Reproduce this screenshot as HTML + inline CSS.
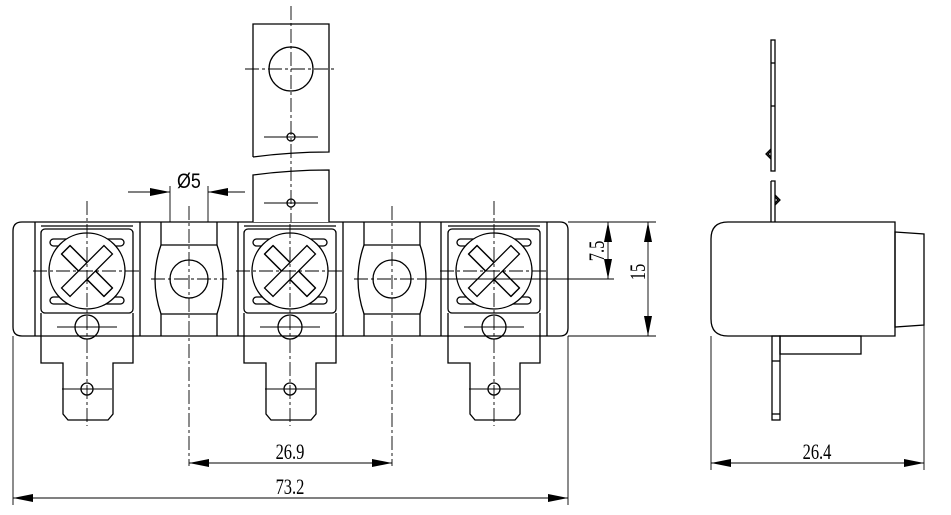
<!DOCTYPE html>
<html><head><style>html,body{margin:0;padding:0;background:#fff}svg{display:block}</style></head>
<body>
<svg width="951" height="515" viewBox="0 0 951 515" xmlns="http://www.w3.org/2000/svg" font-family="Liberation Serif, serif">
<defs>
<g id="scr" fill="none" stroke="#000" stroke-width="1.3">
  <rect x="-46" y="-42" width="92" height="84" rx="4"/>
  <line x1="-46" y1="-45" x2="46" y2="-45"/>
  <rect x="-37" y="-32" width="74" height="7" rx="3.5"/>
  <rect x="-37" y="26" width="74" height="7" rx="3.5"/>
  <circle cx="0" cy="0" r="38" fill="#fff"/>
  <g transform="rotate(45)"><polygon points="-30,-6 30,-6 30,6 -30,6"/></g>
  <g transform="rotate(-45)"><polygon points="-30,-6 30,-6 30,6 -30,6" fill="#fff"/></g>
  <g transform="rotate(45)"><line x1="-30" y1="-6" x2="-6" y2="-6"/><line x1="-30" y1="6" x2="-6" y2="6"/><line x1="6" y1="-6" x2="30" y2="-6"/><line x1="6" y1="6" x2="30" y2="6"/><line x1="-30" y1="-6" x2="-30" y2="6"/><line x1="30" y1="-6" x2="30" y2="6"/></g>
  <polyline points="-46,42 -46,92 -24,92 -24,143 -19,149 21,149 26,143 26,92 46,92 46,42"/>
  <circle cx="0" cy="56" r="12"/>
  <circle cx="0" cy="118" r="6"/>
  <g stroke-width="0.9" stroke-dasharray="14,3,3,3">
    <line x1="0" y1="-70" x2="0" y2="155"/>
    <line x1="-54" y1="0" x2="54" y2="0"/>
  </g>
  <line x1="-30" y1="56" x2="30" y2="56" stroke-width="0.9"/>
  <line x1="-25" y1="118" x2="25" y2="118" stroke-width="0.9"/>
</g>
<g id="mid" fill="none" stroke="#000" stroke-width="1.3">
  <line x1="-28" y1="-49" x2="-28" y2="-26"/><line x1="28" y1="-49" x2="28" y2="-26"/>
  <line x1="-28" y1="-26" x2="28" y2="-26"/>
  <path d="M-28,-26 Q-40,8 -28,43 M28,-26 Q40,8 28,43"/>
  <line x1="-28" y1="43" x2="28" y2="43"/>
  <line x1="-28" y1="43" x2="-28" y2="65"/><line x1="28" y1="43" x2="28" y2="65"/>
  <circle cx="0" cy="8" r="19"/>
  <g stroke-width="0.9" stroke-dasharray="14,3,3,3">
    <line x1="0" y1="-65" x2="0" y2="195"/>
    <line x1="-38" y1="8" x2="38" y2="8"/>
  </g>
</g>
<marker id="a" viewBox="0 0 20 8" refX="20" refY="4" markerWidth="20" markerHeight="8" markerUnits="userSpaceOnUse" orient="auto-start-reverse"><path d="M0,0 L20,4 L0,8z" fill="#000"/></marker>
</defs>
<g fill="none" stroke="#000" stroke-width="1.3">
  <path d="M22,222 L560,222 Q568,222 568,230 L568,328 Q568,336 560,336 L22,336 Q13,336 13,327 L13,231 Q13,222 22,222 Z"/>
  <line x1="35" y1="222" x2="35" y2="336"/>
  <line x1="140" y1="222" x2="140" y2="336"/>
  <line x1="238" y1="222" x2="238" y2="336"/>
  <line x1="343" y1="222" x2="343" y2="336"/>
  <line x1="441" y1="222" x2="441" y2="336"/>
  <line x1="547" y1="222" x2="547" y2="336"/>
</g>
<use href="#mid" x="189" y="271"/>
<use href="#mid" x="392" y="271"/>
<use href="#scr" x="87" y="271"/>
<use href="#scr" x="290" y="271"/>
<use href="#scr" x="494" y="271"/>
<g fill="none" stroke="#000" stroke-width="1.3">
  <path d="M253,157 L253,24 L329,24 L329,152 Q290,152 253,157" fill="#fff"/>
  <path d="M253,222 L253,175 Q290,170 329,170 L329,222" fill="#fff"/>
  <circle cx="291" cy="69" r="22"/>
  <circle cx="291" cy="137" r="4"/>
  <circle cx="291" cy="203" r="4"/>
  <g stroke-width="0.9" stroke-dasharray="14,3,3,3">
    <line x1="291" y1="6" x2="291" y2="222"/>
    <line x1="245" y1="69" x2="335" y2="69"/>
  </g>
  <line x1="264" y1="137" x2="318" y2="137" stroke-width="0.9"/>
  <line x1="264" y1="203" x2="318" y2="203" stroke-width="0.9"/>
</g>
<g stroke="#000" stroke-width="0.9" fill="none">
  <line x1="170" y1="186" x2="170" y2="222"/><line x1="208" y1="186" x2="208" y2="222"/>
  <line x1="128" y1="192" x2="170" y2="192" marker-end="url(#a)"/>
  <line x1="245" y1="192" x2="208" y2="192" marker-end="url(#a)"/>
  <line x1="568" y1="222" x2="656" y2="222"/>
  <line x1="420" y1="279" x2="614" y2="279"/>
  <line x1="568" y1="336" x2="656" y2="336"/>
  <line x1="608" y1="222" x2="608" y2="279" marker-start="url(#a)" marker-end="url(#a)"/>
  <line x1="648" y1="222" x2="648" y2="336" marker-start="url(#a)" marker-end="url(#a)"/>
  <line x1="189" y1="463" x2="392" y2="463" marker-start="url(#a)" marker-end="url(#a)"/>
  <line x1="13" y1="336" x2="13" y2="505"/><line x1="568" y1="336" x2="568" y2="505"/>
  <line x1="13" y1="498" x2="568" y2="498" marker-start="url(#a)" marker-end="url(#a)"/>
  <line x1="711" y1="336" x2="711" y2="470"/><line x1="924" y1="325" x2="924" y2="470"/>
  <line x1="711" y1="463" x2="924" y2="463" marker-start="url(#a)" marker-end="url(#a)"/>
</g>
<g font-size="22" fill="#000">
  <text x="177" y="188" font-size="21" font-family="Liberation Sans, sans-serif" transform="translate(177,188) scale(0.85,1) translate(-177,-188)">Ø5</text>
  <text x="290" y="459" text-anchor="middle" transform="translate(290,459) scale(0.75,1) translate(-290,-459)">26.9</text>
  <text x="290" y="494" text-anchor="middle" transform="translate(290,494) scale(0.75,1) translate(-290,-494)">73.2</text>
  <text x="817" y="459" text-anchor="middle" transform="translate(817,459) scale(0.75,1) translate(-817,-459)">26.4</text>
  <text transform="translate(604,251) rotate(-90) scale(0.75,1)" text-anchor="middle">7.5</text>
  <text transform="translate(645,272) rotate(-90) scale(0.75,1)" text-anchor="middle">15</text>
</g>
<g fill="none" stroke="#000" stroke-width="1.3">
  <path d="M728,222 L895,222 L895,336 L728,336 Q711,336 711,319 L711,239 Q711,222 728,222 Z"/>
  <polygon points="895,232 924,234 924,325 895,327"/>
  <rect x="771" y="40" width="4" height="131"/>
  <line x1="771" y1="63" x2="775" y2="63"/><line x1="771" y1="106" x2="775" y2="106"/>
  <path d="M771,151 l-3,3 l3,3 M771,149 l-5,5 l5,5"/>
  <path d="M771,181 L775,181 L775,222 M771,181 L771,222"/>
  <path d="M775,197 l3,3 l-3,3 M775,195 l5,5 l-5,5"/>
  <rect x="772" y="336" width="8" height="84"/>
  <line x1="772" y1="361" x2="780" y2="361"/>
  <line x1="772" y1="414" x2="780" y2="414"/>
  <rect x="780" y="336" width="81" height="18"/>
</g>
</svg>
</body></html>
